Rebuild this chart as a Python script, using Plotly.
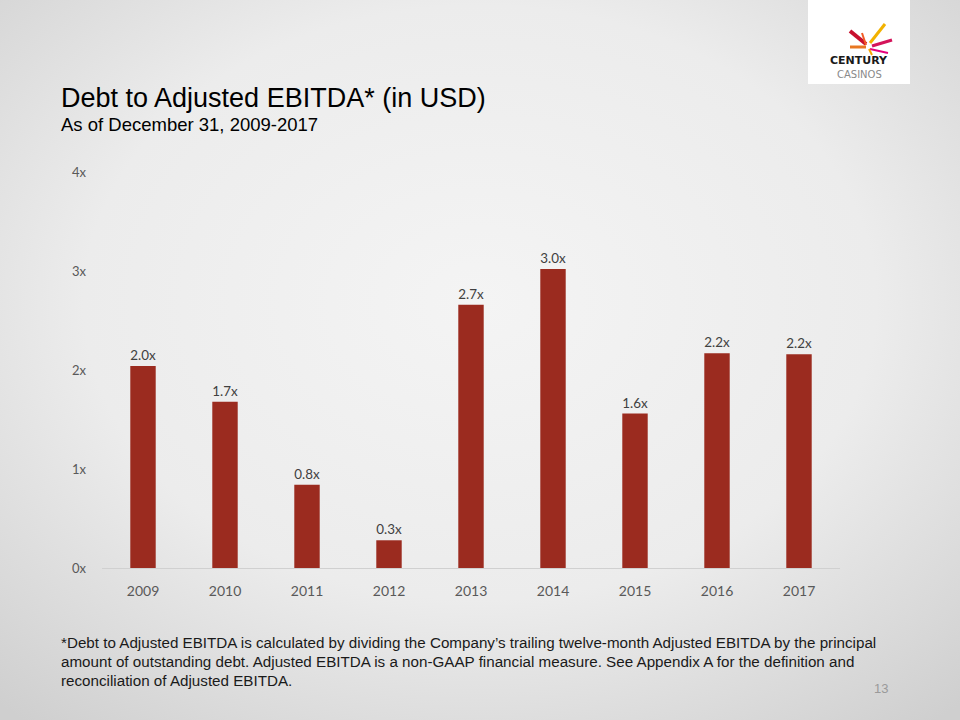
import base64
import plotly.graph_objects as go

# ---- data ----
years = ["2009", "2010", "2011", "2012", "2013", "2014", "2015", "2016", "2017"]
ratio = [2.04, 1.68, 0.84, 0.28, 2.66, 3.02, 1.56, 2.17, 2.16]
y_ticks = [0, 1, 2, 3, 4]
y_tick_labels = ["0x", "1x", "2x", "3x", "4x"]

title = "Debt to Adjusted EBITDA* (in USD)"
subtitle = "As of December 31, 2009-2017"
footnote_lines = [
    "*Debt to Adjusted EBITDA is calculated by dividing the Company\u2019s trailing twelve-month Adjusted EBITDA by the principal",
    "amount of outstanding debt. Adjusted EBITDA is a non-GAAP financial measure. See Appendix A for the definition and",
    "reconciliation of Adjusted EBITDA.",
]
page_no = "13"

BAR = "#9B2B1F"
TXT = "#595959"

# background radial gradient (slide style)
svg = """<svg xmlns='http://www.w3.org/2000/svg' width='960' height='720'>
<defs><radialGradient id='g' cx='50%' cy='42%' r='75%'>
<stop offset='0%' stop-color='#f4f4f4'/><stop offset='55%' stop-color='#ececec'/>
<stop offset='100%' stop-color='#cfcfcf'/></radialGradient></defs>
<rect width='960' height='720' fill='url(#g)'/></svg>"""
bg_uri = "data:image/svg+xml;base64," + base64.b64encode(svg.encode()).decode()

fig = go.Figure()
fig.add_trace(go.Bar(
    x=years, y=ratio, marker=dict(color=BAR, line=dict(width=0)),
    texttemplate="%{y:.1f}x", textposition="outside",
    textfont=dict(family="Lato, Open Sans, sans-serif", size=14, color="#404040"),
    cliponaxis=False, hoverinfo="skip",
))

annotations = [
    dict(text=title, x=59, y=81, showarrow=False,
         xanchor="left", yanchor="top", font=dict(family="Liberation Sans, Arial", size=27, color="#000000")),
    dict(text=subtitle, x=59, y=112, showarrow=False,
         xanchor="left", yanchor="top", font=dict(family="Liberation Sans, Arial", size=18.5, color="#000000")),
    dict(text=page_no, x=890, y=679, showarrow=False,
         xanchor="right", yanchor="top", font=dict(family="Liberation Sans, Arial", size=13, color="#9a9a9a")),
    dict(text="<b>CENTURY</b>", x=859, y=53, showarrow=False, borderpad=0,
         xanchor="center", yanchor="top", font=dict(family="DejaVu Sans, sans-serif", size=11, color="#1a1a1a")),
    dict(text="CASINOS", x=859, y=68, showarrow=False, borderpad=0,
         xanchor="center", yanchor="top", font=dict(family="DejaVu Sans, sans-serif", size=10, color="#8a8a8a")),
]
for i, line in enumerate(footnote_lines):
    annotations.append(dict(
        text=line, x=59, y=632 + 19 * i, showarrow=False,
        xanchor="left", yanchor="top",
        font=dict(family="Liberation Sans, Arial", size=15.2, color="#1a1a1a")))

L, R, T, B = 102, 120, 172, 152
PW, PH = 960 - L - R, 720 - T - B


def px(x, y):
    return (x - L) / PW, (720 - y - B) / PH


for a in annotations:
    a["xref"] = "paper"
    a["yref"] = "paper"
    a["x"], a["y"] = px(a["x"], a["y"])

shapes = []
x0, y0 = px(808, 0)
x1, y1 = px(910, 84)
shapes.append(dict(type="rect", xref="paper", yref="paper", x0=x0, y0=y1, x1=x1, y1=y0,
                   fillcolor="white", line=dict(width=0), layer="below"))
# starburst strokes in logo
burst = [
    ((866, 44), (850, 31), "#c8102e", 4),
    ((870, 43), (885, 24), "#f2b200", 3),
    ((866, 47), (850, 47), "#e87722", 3),
    ((872, 46), (892, 40), "#d4145a", 3),
    ((870, 49), (888, 53), "#e4007c", 2),
    ((869, 49), (872, 55), "#f7a600", 2),
    ((866, 45), (862, 33), "#f15a24", 2),
]
for (a, b, c, w) in burst:
    ax, ay = px(*a)
    bx, by = px(*b)
    shapes.append(dict(type="line", xref="paper", yref="paper", x0=ax, y0=ay, x1=bx, y1=by,
                       line=dict(color=c, width=w)))

fig.update_layout(
    width=960, height=720,
    margin=dict(l=L, r=R, t=T, b=B),
    paper_bgcolor="#ebebeb", plot_bgcolor="rgba(0,0,0,0)",
    showlegend=False, bargap=0.69,
    images=[dict(source=bg_uri, xref="paper", yref="paper",
                 x=(0 - L) / PW, y=(720 - B) / PH, sizex=960 / PW, sizey=720 / PH,
                 xanchor="left", yanchor="top", sizing="stretch", layer="below")],
    annotations=annotations, shapes=shapes,
    xaxis=dict(showgrid=False, zeroline=False, showline=True, linecolor="#d0d0d0", linewidth=1,
               ticks="", tickfont=dict(family="Lato, Open Sans, sans-serif", size=14, color=TXT),
               ticklabelstandoff=10, fixedrange=True),
    yaxis=dict(range=[0, 4], tickvals=y_ticks, ticktext=y_tick_labels, showgrid=False, zeroline=False,
               showline=False, ticks="", tickfont=dict(family="Lato, Open Sans, sans-serif", size=13, color=TXT),
               ticklabelstandoff=15, fixedrange=True),
)

fig.write_html("out.html")
